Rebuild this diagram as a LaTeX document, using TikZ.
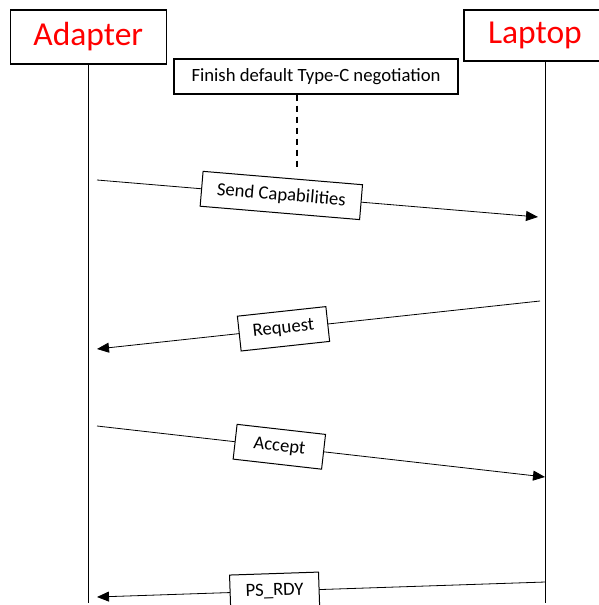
\documentclass[tikz,border=0pt]{standalone}
\usepackage{fontspec}
\setmainfont{Carlito}
\usetikzlibrary{arrows.meta}
\begin{document}
\begin{tikzpicture}[x=1pt, y=-1pt,
    attore/.style={draw, line width=1.4pt, text=red, inner sep=0pt,
        font=\fontsize{33.5}{38}\selectfont},
    nota/.style={draw, line width=1.4pt, inner sep=0pt, minimum width=284pt,
        minimum height=35pt, font=\fontsize{18.7}{22}\selectfont},
    etichetta/.style={draw, fill=white, line width=1pt, sloped, inner sep=0pt,
        minimum height=35pt, font=\fontsize{18.7}{22}\selectfont},
    vita/.style={line width=0.9pt},
    msg/.style={line width=0.8pt, -{Triangle[length=12pt, width=10pt]}},
    tratteggio/.style={line width=2pt, dash pattern=on 6pt off 5pt}]
    \useasboundingbox (0,0) rectangle (598,605);

    % Attori
    \node[attore, minimum width=156pt, minimum height=54pt] (adapter) at (88.3,37) {Adapter};
    \node[attore, minimum width=142pt, minimum height=51pt] (laptop) at (535,35.5) {Laptop};
    \node[nota] (finish) at (316,76.5) {Finish default Type-C negotiation};

    % Linee di vita
    \coordinate (adapterfine) at (88.3,603);
    \coordinate (laptopfine) at (545.5,603);
    \draw[vita] (adapter) -- (adapterfine);
    \draw[vita] (laptopfine |- laptop.south) -- (laptopfine);
    \coordinate (negofine) at (297,168);
    \draw[tratteggio] (negofine |- finish.south) -- (negofine);

    % Estremi dei messaggi
    \foreach \nome/\x/\y in {sa/97/180, sb/538/217, ra/540/301, rb/97/349,
                             aa/97/426, ab/545/477, pa/545.5/582, pb/97/597} {
            \coordinate (\nome) at (\x,\y);
        }

    % Messaggi con etichette
    \foreach \da/\a/\p/\nome/\w/\txt in {sa/sb/0.418/sendcap/160/Send Capabilities,
                                         ra/rb/0.579/request/89/Request,
                                         aa/ab/0.407/accept/89/Accept,
                                         pa/pb/0.604/psrdy/89/PS\_RDY} {
            \draw[msg] (\da) -- (\a) node[etichetta, pos=\p, minimum width=\w pt] (\nome) {\txt};
        }
\end{tikzpicture}
\end{document}
